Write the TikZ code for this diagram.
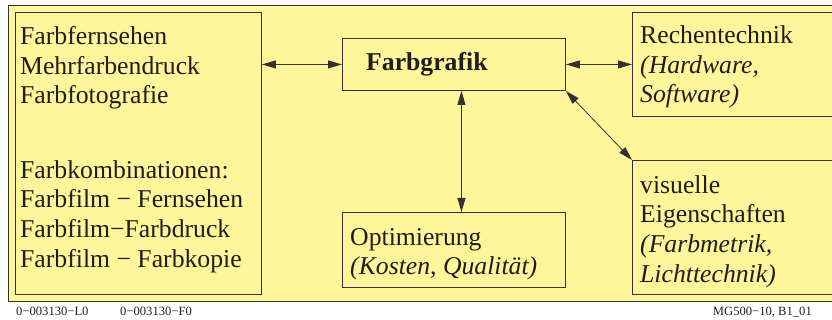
\documentclass[tikz,border=0pt]{standalone}
\usepackage{fontspec}
\setmainfont{Liberation Serif}
\usetikzlibrary{positioning, calc, arrows.meta}
\definecolor{farbgelb}{RGB}{255,245,155}
\definecolor{rahmen}{RGB}{50,50,50}
\definecolor{schrift}{RGB}{30,30,30}
\tikzset{
	box/.style={draw=rahmen, fill=farbgelb, line width=0.9pt, inner sep=0pt, anchor=north west},
	txt/.style={inner sep=0pt, anchor=base west, align=left, text=schrift, font=\fontsize{25.7}{29.6}\selectfont},
	arrow/.style={line width=0.8pt, draw=rahmen, {Triangle[length=14pt, width=8pt]}-{Triangle[length=14pt, width=8pt]}},
	stamp/.style={inner sep=0pt, anchor=base west, text=schrift, font=\fontsize{12.6}{14}\selectfont},
}

\begin{document}
\begin{tikzpicture}[x=1pt, y=-1pt]
	\useasboundingbox (0,0) rectangle (832,320);
	\draw[draw=rahmen, fill=farbgelb, line width=0.9pt] (8,5) rectangle (845,301);

	\node[box, minimum width=246pt, minimum height=282pt] (quellen) at (15,12) {};
	\node[box, minimum width=223pt, minimum height=52pt]  (grafik)  at (342,38) {};
	\node[box, minimum width=223pt, minimum height=75pt]  (optim)   at (342,212) {};
	\node[box, minimum width=230pt, minimum height=104pt] (rechen)  at (632,12) {};
	\node[box, minimum width=230pt, minimum height=134pt] (visuell) at (632,160) {};

	% base of a block = baseline of its last line
	\node[txt] (medien) at ([xshift=5pt, yshift=-92pt]quellen.north west) {Farbfernsehen\\Mehrfarbendruck\\Farbfotografie};
	\node[txt] (kombi)  at ([xshift=5pt, yshift=-255pt]quellen.north west) {Farbkombinationen:\\Farbfilm − Fernsehen\\Farbfilm−Farbdruck\\Farbfilm − Farbkopie};
	\node[txt, font=\fontsize{25.7}{29.6}\selectfont\bfseries] (titel) at ([xshift=24pt, yshift=-33pt]grafik.north west) {Farbgrafik};
	\node[txt] (optimtext)   at ([xshift=8pt, yshift=-63pt]optim.north west) {Optimierung\\\textit{(Kosten, Qualität)}};
	\node[txt] (rechentext)  at ([xshift=8pt, yshift=-91pt]rechen.north west) {Rechentechnik\\\textit{(Hardware,}\\\textit{Software)}};
	\node[txt] (visuelltext) at ([xshift=8pt, yshift=-122pt]visuell.north west) {visuelle\\Eigenschaften\\\textit{(Farbmetrik,}\\\textit{Lichttechnik)}};

	\draw[arrow] (quellen.east |- grafik.west) -- (grafik.west);
	\draw[arrow] (grafik.east) -- (rechen.west |- grafik.east);
	\draw[arrow] ([xshift=7.5pt]grafik.south) -- ([xshift=7.5pt]optim.north);
	\draw[arrow] (grafik.south east) -- (visuell.north west);

	\node[stamp] (codeL) at (16,315) {0−003130−L0};
	\node[stamp] (codeF) at (120,315) {0−003130−F0};
	\node[stamp, anchor=base east] (blatt) at (812,315) {MG500−10, B1\_01};
\end{tikzpicture}
\end{document}
